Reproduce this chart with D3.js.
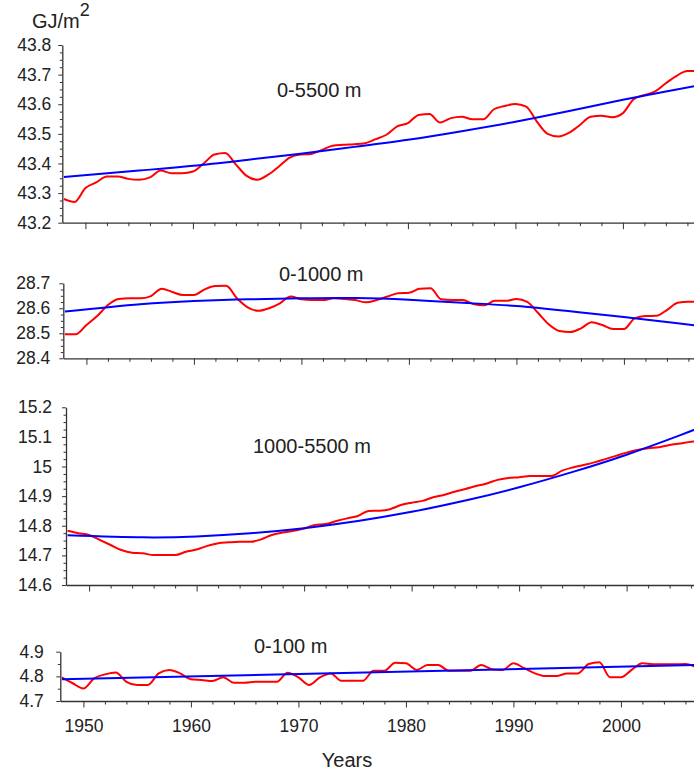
<!DOCTYPE html>
<html>
<head>
<meta charset="utf-8">
<script src="https://cdn.jsdelivr.net/npm/d3@7"></script>
<style>
  html, body { margin: 0; padding: 0; background: #fff; }
  svg { display: block; font-family: "Liberation Sans", Arial, sans-serif; }
</style>
</head>
<body>
<svg id="chart" width="694" height="773"></svg>
<script>
// Annual ocean heat content, 1948-2007 (GJ/m²), by depth layer
const FIRST_YEAR = 1948;
const LAST_YEAR = 2007;
const years = d3.range(FIRST_YEAR, LAST_YEAR + 1);

const heat0to5500 = [
  43.280, 43.270, 43.317, 43.336, 43.356, 43.356, 43.348, 43.345, 43.353, 43.376,
  43.367, 43.367, 43.373, 43.400, 43.430, 43.435, 43.396, 43.358, 43.345, 43.362,
  43.390, 43.420, 43.430, 43.432, 43.446, 43.460, 43.463, 43.465, 43.468, 43.482,
  43.497, 43.525, 43.536, 43.564, 43.567, 43.538, 43.553, 43.558, 43.549, 43.549,
  43.583, 43.594, 43.601, 43.592, 43.541, 43.500, 43.491, 43.504, 43.530, 43.558,
  43.561, 43.556, 43.570, 43.617, 43.631, 43.643, 43.671, 43.696, 43.712, 43.712
];
const heat0to1000 = [
  28.496, 28.496, 28.533, 28.569, 28.613, 28.637, 28.640, 28.640, 28.649, 28.678,
  28.665, 28.653, 28.653, 28.676, 28.689, 28.690, 28.640, 28.604, 28.590, 28.600,
  28.620, 28.647, 28.636, 28.633, 28.633, 28.640, 28.637, 28.633, 28.624, 28.633,
  28.647, 28.660, 28.662, 28.678, 28.680, 28.636, 28.633, 28.633, 28.617, 28.612,
  28.630, 28.630, 28.637, 28.626, 28.582, 28.536, 28.509, 28.505, 28.520, 28.544,
  28.533, 28.517, 28.517, 28.560, 28.569, 28.570, 28.593, 28.622, 28.626, 28.626
];
const heat1000to5500 = [
  14.783, 14.775, 14.769, 14.752, 14.735, 14.718, 14.709, 14.707, 14.701, 14.701,
  14.701, 14.712, 14.720, 14.732, 14.741, 14.744, 14.746, 14.746, 14.754, 14.769,
  14.777, 14.783, 14.791, 14.803, 14.806, 14.816, 14.825, 14.833, 14.850, 14.851,
  14.856, 14.870, 14.878, 14.884, 14.896, 14.904, 14.915, 14.924, 14.934, 14.943,
  14.955, 14.961, 14.964, 14.968, 14.968, 14.968, 14.986, 14.997, 15.005, 15.014,
  15.025, 15.036, 15.047, 15.056, 15.062, 15.065, 15.073, 15.078, 15.084, 15.086
];
const heat0to100 = [
  4.796, 4.772, 4.751, 4.792, 4.808, 4.816, 4.778, 4.765, 4.765, 4.812,
  4.826, 4.812, 4.788, 4.785, 4.781, 4.796, 4.774, 4.774, 4.778, 4.778,
  4.778, 4.815, 4.796, 4.765, 4.796, 4.812, 4.782, 4.782, 4.782, 4.823,
  4.823, 4.855, 4.853, 4.826, 4.846, 4.846, 4.823, 4.823, 4.823, 4.846,
  4.829, 4.826, 4.853, 4.833, 4.812, 4.801, 4.801, 4.812, 4.812, 4.850,
  4.857, 4.796, 4.796, 4.826, 4.853, 4.849, 4.849, 4.849, 4.850, 4.837
];

// Fitted trends (linear for 0-100 m, quadratic for the others)
const trendYearsLinear = [1948, 2007];
const trend0to100 = [4.788, 4.846];
const trendYearsCurved = [1948, 1955, 1960, 1965, 1970, 1975, 1980, 1985, 1990, 1995, 2000, 2005, 2007];
const trend0to5500 = [43.354, 43.376, 43.392, 43.412, 43.433, 43.456, 43.480, 43.509, 43.541, 43.577, 43.615, 43.650, 43.663];
const trend0to1000 = [28.587, 28.616, 28.629, 28.636, 28.640, 28.641, 28.634, 28.622, 28.609, 28.588, 28.565, 28.540, 28.530];
const trend1000to5500 = [14.768, 14.761, 14.764, 14.775, 14.792, 14.816, 14.847, 14.885, 14.930, 14.982, 15.040, 15.106, 15.134];

// Axis tick values and their printed labels
const ticks0to5500 = [43.2, 43.3, 43.4, 43.5, 43.6, 43.7, 43.8];
const tickLabels0to5500 = ["43.2", "43.3", "43.4", "43.5", "43.6", "43.7", "43.8"];
const ticks0to1000 = [28.4, 28.5, 28.6, 28.7];
const tickLabels0to1000 = ["28.4", "28.5", "28.6", "28.7"];
const ticks1000to5500 = [14.6, 14.7, 14.8, 14.9, 15.0, 15.1, 15.2];
const tickLabels1000to5500 = ["14.6", "14.7", "14.8", "14.9", "15", "15.1", "15.2"];
const ticks0to100 = [4.7, 4.8, 4.9];
const tickLabels0to100 = ["4.7", "4.8", "4.9"];
const yearTicks = [1950, 1960, 1970, 1980, 1990, 2000];
const yearTickLabels = ["1950", "1960", "1970", "1980", "1990", "2000"];
const layerLabels = ["0-5500 m", "0-1000 m", "1000-5500 m", "0-100 m"];

// ---- layout ----
const PX_PER_YEAR = 10.75;
const X_START = 1947.85;
const TEXT = "#222";
const AXIS = "#333";

const panels = [
  { label: layerLabels[0], values: heat0to5500, tYears: trendYearsCurved, trend: trend0to5500,
    ticks: ticks0to5500, tickLabels: tickLabels0to5500, minor: 0.025,
    left: 62.3, top: 45, bottom: 222.7, pad: 7, lx: 277, ly: 97 },
  { label: layerLabels[1], values: heat0to1000, tYears: trendYearsCurved, trend: trend0to1000,
    ticks: ticks0to1000, tickLabels: tickLabels0to1000, minor: 0.025,
    left: 63.3, top: 283.3, bottom: 358.3, pad: 9, lx: 279, ly: 281 },
  { label: layerLabels[2], values: heat1000to5500, tYears: trendYearsCurved, trend: trend1000to5500,
    ticks: ticks1000to5500, tickLabels: tickLabels1000to5500, minor: 0.025,
    left: 66, top: 407.3, bottom: 585, pad: 10, lx: 253, ly: 453.3 },
  { label: layerLabels[3], values: heat0to100, tYears: trendYearsLinear, trend: trend0to100,
    ticks: ticks0to100, tickLabels: tickLabels0to100, minor: 0.05,
    left: 60.3, top: 651.7, bottom: 701, pad: 12.5, lx: 254, ly: 653.3, showYears: true }
];

const svg = d3.select("#chart");

panels.forEach(p => {
  const x = d3.scaleLinear()
    .domain([X_START, X_START + 62])
    .range([p.left, p.left + 62 * PX_PER_YEAR]);
  const lo = p.ticks[0], hi = p.ticks[p.ticks.length - 1];
  const y = d3.scaleLinear().domain([lo, hi]).range([p.bottom, p.top]);

  const g = svg.append("g");

  // minor x ticks every two years
  const minorYears = d3.range(1950, 2008, 2).filter(v => v % 10 !== 0);
  g.append("g")
    .attr("transform", `translate(0,${p.bottom})`)
    .call(d3.axisBottom(x).tickValues(minorYears).tickSize(3.5).tickSizeOuter(0).tickFormat(""))
    .call(a => a.select(".domain").remove())
    .call(a => a.selectAll("line").attr("stroke", AXIS).attr("stroke-width", 1));

  // major x ticks and axis line
  const xAxis = g.append("g")
    .attr("transform", `translate(0,${p.bottom})`)
    .call(d3.axisBottom(x).tickValues(yearTicks).tickSize(6.5).tickSizeOuter(0).tickPadding(12.5)
      .tickFormat((d, i) => p.showYears ? yearTickLabels[i] : ""));
  xAxis.select(".domain").attr("stroke", AXIS).attr("stroke-width", 1.3);
  xAxis.selectAll("line").attr("stroke", AXIS).attr("stroke-width", 1);
  xAxis.selectAll("text").attr("fill", TEXT).attr("font-size", 17.5)
    .attr("font-family", "Liberation Sans, Arial, sans-serif");

  // minor y ticks
  const minorVals = d3.range(lo, hi + 1e-9, p.minor)
    .filter(v => !p.ticks.some(t => Math.abs(t - v) < 1e-6));
  g.append("g")
    .attr("transform", `translate(${p.left},0)`)
    .call(d3.axisLeft(y).tickValues(minorVals).tickSize(2.5).tickSizeOuter(0).tickFormat(""))
    .call(a => a.select(".domain").remove())
    .call(a => a.selectAll("line").attr("stroke", AXIS).attr("stroke-width", 1));

  // major y ticks, labels and axis line
  const yAxis = g.append("g")
    .attr("transform", `translate(${p.left},0)`)
    .call(d3.axisLeft(y).tickValues(p.ticks).tickSize(4).tickSizeOuter(0).tickPadding(p.pad)
      .tickFormat((d, i) => p.tickLabels[i]));
  yAxis.select(".domain").attr("stroke", AXIS).attr("stroke-width", 1.3);
  yAxis.selectAll("line").attr("stroke", AXIS).attr("stroke-width", 1);
  yAxis.selectAll("text").attr("fill", TEXT).attr("font-size", 17.5)
    .attr("font-family", "Liberation Sans, Arial, sans-serif");

  // observed series
  const line = d3.line().x(d => x(d[0])).y(d => y(d[1])).curve(d3.curveMonotoneX);
  g.append("path")
    .datum(years.map((yr, i) => [yr, p.values[i]]))
    .attr("fill", "none")
    .attr("stroke", "#ff0000")
    .attr("stroke-width", 2)
    .attr("stroke-linejoin", "round")
    .attr("d", line);

  // trend
  g.append("path")
    .datum(p.tYears.map((yr, i) => [yr, p.trend[i]]))
    .attr("fill", "none")
    .attr("stroke", "#0000ff")
    .attr("stroke-width", 2)
    .attr("d", d3.line().x(d => x(d[0])).y(d => y(d[1])).curve(d3.curveNatural));

  // layer label
  g.append("text")
    .attr("x", p.lx).attr("y", p.ly)
    .attr("fill", TEXT).attr("font-size", 20)
    .text(p.label);
});

// unit label
const unit = svg.append("text")
  .attr("x", 32).attr("y", 28)
  .attr("fill", TEXT).attr("font-size", 20);
unit.append("tspan").text("GJ/m");
unit.append("tspan").attr("dy", -12).attr("font-size", 18).text("2");

// x axis title
svg.append("text")
  .attr("x", 347).attr("y", 767)
  .attr("text-anchor", "middle")
  .attr("fill", TEXT).attr("font-size", 20)
  .text("Years");
</script>
</body>
</html>
